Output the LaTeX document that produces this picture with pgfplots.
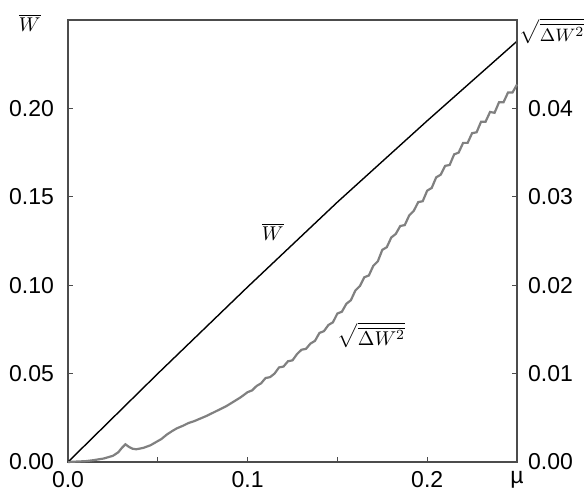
\documentclass[border=0pt]{standalone}
\usepackage{pgfplots}
\pgfplotsset{compat=1.18}
\usepackage{fontspec}
\setmainfont{Liberation Sans}

\begin{document}
\begin{tikzpicture}
\useasboundingbox (-34pt,-15pt) rectangle (259.5pt,231pt);
\pgfplotsset{
  every axis/.append style={
    scale only axis, width=224.5pt, height=221pt,
    xmin=0, xmax=0.25, ymin=0, clip=false,
    axis line style={black!70, line width=0.6pt},
    tick style={black!70, line width=0.6pt},
    tick align=inside, major tick length=2.5pt,
    ticklabel style={font=\fontsize{11.5}{13}\selectfont},
    scaled y ticks=false,
    /pgf/number format/assume math mode=true,
    yticklabel style={/pgf/number format/fixed, /pgf/number format/fixed zerofill, /pgf/number format/precision=2},
  }
}
% left axis: mean W
\begin{axis}[
  ymax=0.25,
  xtick={0,0.05,0.1,0.15,0.2,0.25},
  xticklabels={0.0,,0.1,,0.2,µ},
  xticklabel style={yshift=-1pt},
  ytick={0,0.05,0.1,0.15,0.2},
  yticklabel style={xshift=-3.5pt},
  xtick pos=bottom, ytick pos=left,
]
\addplot[black, line width=0.7pt] coordinates {
  (0,0) (0.05,0.05) (0.1,0.099) (0.15,0.147) (0.2,0.193) (0.25,0.238)
};
\node[font=\fontsize{10}{12}\selectfont] at (axis cs:0.114,0.130) {$\overline{W}$};
\node[font=\fontsize{10}{12}\selectfont] at (axis cs:0.169,0.0718) {$\sqrt{\overline{\Delta W^2}}$};
\node[font=\fontsize{10}{12}\selectfont] at (rel axis cs:-0.085,0.993) {$\overline{W}$};
\node[font=\fontsize{9.5}{11}\selectfont, anchor=east, inner sep=0.5pt] at (rel axis cs:1.153,0.975) {$\sqrt{\overline{\Delta W^2}}$};
\end{axis}
% right axis: rms of W
\begin{axis}[
  ymax=0.05,
  axis y line*=right, axis x line=none,
  ytick={0,0.01,0.02,0.03,0.04},
  yticklabel style={xshift=2pt},
]
\addplot[black!50, line width=1.1pt] coordinates {
  (0,0) (0.005,0.00005) (0.01,0.0001) (0.014,0.0002) (0.02,0.0004)
  (0.025,0.0007) (0.028,0.0011) (0.030,0.0016) (0.032,0.0020) (0.034,0.0017)
  (0.036,0.0015) (0.038,0.00144) (0.042,0.0016) (0.046,0.0019) (0.0494,0.0023)
  (0.052,0.0026) (0.055,0.0031) (0.058,0.0035) (0.0605,0.0038) (0.064,0.0041)
  (0.067,0.0044) (0.070,0.0046) (0.0735,0.0049) (0.077,0.0052) (0.080,0.0055)
  (0.084,0.0059) (0.088,0.0063) (0.092,0.0068) (0.096,0.0073)
  (0.1000,0.0079) (0.1025,0.0081) (0.1050,0.0086) (0.1075,0.0089) (0.1100,0.0095)
  (0.1125,0.0096) (0.1150,0.0100) (0.1175,0.0107) (0.1200,0.0108) (0.1225,0.0114)
  (0.1250,0.0115) (0.1275,0.0122) (0.1300,0.0127) (0.1325,0.0128) (0.1350,0.0134)
  (0.1375,0.0137) (0.1400,0.0146) (0.1425,0.0148) (0.1450,0.0155) (0.1475,0.0158)
  (0.1500,0.0168) (0.1525,0.0170) (0.1550,0.0179) (0.1575,0.0183) (0.1600,0.0194)
  (0.1625,0.0199) (0.1650,0.0209) (0.1675,0.0211) (0.1700,0.0222) (0.1725,0.0227)
  (0.1750,0.0240) (0.1775,0.0243) (0.1800,0.0254) (0.1825,0.0258) (0.1850,0.0267)
  (0.1875,0.0268) (0.1900,0.0279) (0.1925,0.0284) (0.1950,0.0294) (0.1975,0.0295)
  (0.2000,0.0307) (0.2025,0.0310) (0.2050,0.0322) (0.2075,0.0325) (0.2100,0.0335)
  (0.2125,0.0336) (0.2150,0.0348) (0.2175,0.0350) (0.2200,0.0361) (0.2225,0.0361)
  (0.2250,0.0372) (0.2275,0.0373) (0.2300,0.0385) (0.2325,0.0385) (0.2350,0.0396)
  (0.2375,0.0395) (0.2400,0.0407) (0.2425,0.0407) (0.2450,0.0418) (0.2475,0.0418)
  (0.2500,0.0427)
};
\end{axis}
\end{tikzpicture}
\end{document}
